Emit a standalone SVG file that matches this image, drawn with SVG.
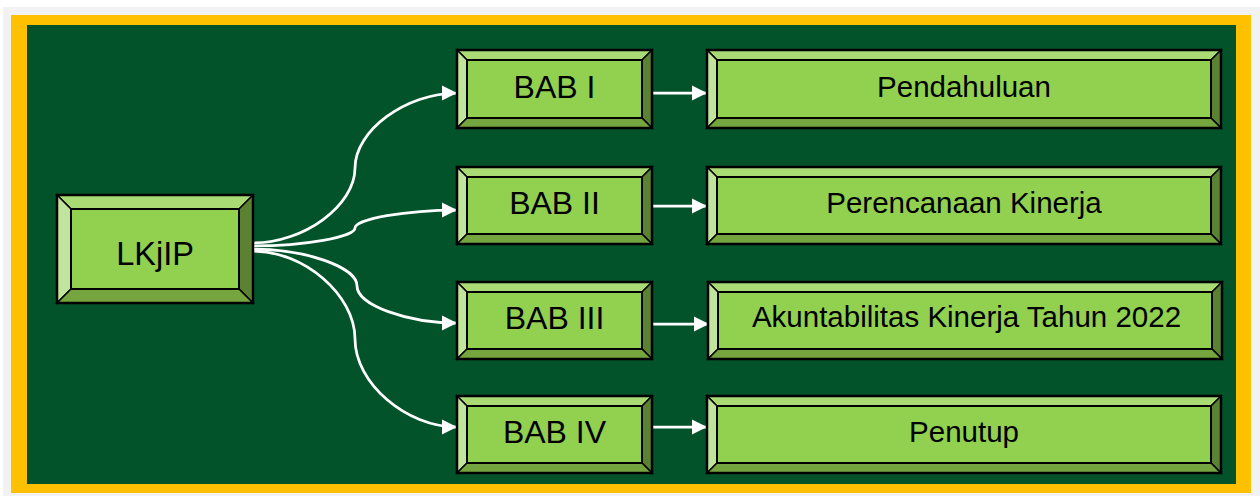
<svg xmlns="http://www.w3.org/2000/svg" width="1260" height="496" viewBox="0 0 1260 496">
<defs>
<style>
.top{fill:#a9da74;stroke:#000;stroke-width:1.5;stroke-linejoin:miter}
.left{fill:#c0e49c;stroke:#000;stroke-width:1.5}
.right{fill:#5b8133;stroke:#000;stroke-width:1.5}
.bottom{fill:#75a53e;stroke:#000;stroke-width:1.5}
.face{fill:#92d050;stroke:#000;stroke-width:2}
.outer{fill:none;stroke:#000;stroke-width:2.5}
.t{font-family:"Liberation Sans",Arial,sans-serif;fill:#000;text-anchor:middle}
.conn{fill:none;stroke:#fff;stroke-width:2.75;marker-end:url(#ah)}
</style>
<marker id="ah" markerUnits="userSpaceOnUse" markerWidth="18" markerHeight="18" refX="15" refY="8" orient="auto">
<path d="M0,0.5 L15,8 L0,15.5 Z" fill="#fff"/>
</marker>
</defs>
<rect x="0" y="0" width="1260" height="496" fill="#ffffff"/>
<rect x="3" y="7" width="1257" height="489" fill="#f2f2f2"/>
<rect x="11" y="15" width="1240" height="478" fill="#ffc000"/>
<rect x="27" y="25" width="1209" height="459" fill="#03532a"/>

<g id="connectors">
<path class="conn" d="M253,243 C304,243 355,205.5 355,168 C355,130.5 406,93 457,93"/>
<path class="conn" d="M253,246 C304,246 355,237 355,228 C355,219 406,210 457,210"/>
<path class="conn" d="M253,249 C305,249 357,267 357,286 C357,305 407,323 457,323"/>
<path class="conn" d="M253,251 C304,251 355,295 355,339 C355,383 406,427 457,427"/>
<path class="conn" d="M652,93 L707,93"/>
<path class="conn" d="M652,206 L707,206"/>
<path class="conn" d="M652,324 L709,324"/>
<path class="conn" d="M652,427 L707,427"/>
</g>

<g id="lkjip">
<polygon class="top" points="57,195 253,195 239,209 71,209"/>
<polygon class="left" points="57,195 71,209 71,289 57,303"/>
<polygon class="right" points="253,195 253,303 239,289 239,209"/>
<polygon class="bottom" points="57,303 71,289 239,289 253,303"/>
<rect class="face" x="71" y="209" width="168" height="80"/>
<rect class="outer" x="57" y="195" width="196" height="108"/>
<text class="t" x="155" y="265" font-size="32.5">LKjIP</text>
</g>

<g id="bab1">
<polygon class="top" points="457,50 652,50 642,60 467,60"/>
<polygon class="left" points="457,50 467,60 467,118 457,128"/>
<polygon class="right" points="652,50 652,128 642,118 642,60"/>
<polygon class="bottom" points="457,128 467,118 642,118 652,128"/>
<rect class="face" x="467" y="60" width="175" height="58"/>
<rect class="outer" x="457" y="50" width="195" height="78"/>
<text class="t" x="554.5" y="98" font-size="32">BAB I</text>
</g>

<g id="bab2">
<polygon class="top" points="457,167 652,167 642,177 467,177"/>
<polygon class="left" points="457,167 467,177 467,234 457,244"/>
<polygon class="right" points="652,167 652,244 642,234 642,177"/>
<polygon class="bottom" points="457,244 467,234 642,234 652,244"/>
<rect class="face" x="467" y="177" width="175" height="57"/>
<rect class="outer" x="457" y="167" width="195" height="77"/>
<text class="t" x="554.5" y="214" font-size="32">BAB II</text>
</g>

<g id="bab3">
<polygon class="top" points="457,282 652,282 642,292 467,292"/>
<polygon class="left" points="457,282 467,292 467,349 457,359"/>
<polygon class="right" points="652,282 652,359 642,349 642,292"/>
<polygon class="bottom" points="457,359 467,349 642,349 652,359"/>
<rect class="face" x="467" y="292" width="175" height="57"/>
<rect class="outer" x="457" y="282" width="195" height="77"/>
<text class="t" x="554.5" y="329" font-size="32">BAB III</text>
</g>

<g id="bab4">
<polygon class="top" points="457,396 652,396 642,406 467,406"/>
<polygon class="left" points="457,396 467,406 467,463 457,473"/>
<polygon class="right" points="652,396 652,473 642,463 642,406"/>
<polygon class="bottom" points="457,473 467,463 642,463 652,473"/>
<rect class="face" x="467" y="406" width="175" height="57"/>
<rect class="outer" x="457" y="396" width="195" height="77"/>
<text class="t" x="554.5" y="443" font-size="32">BAB IV</text>
</g>

<g id="pendahuluan">
<polygon class="top" points="707,50 1221,50 1211,60 717,60"/>
<polygon class="left" points="707,50 717,60 717,118 707,128"/>
<polygon class="right" points="1221,50 1221,128 1211,118 1211,60"/>
<polygon class="bottom" points="707,128 717,118 1211,118 1221,128"/>
<rect class="face" x="717" y="60" width="494" height="58"/>
<rect class="outer" x="707" y="50" width="514" height="78"/>
<text class="t" x="964" y="97" font-size="29.5">Pendahuluan</text>
</g>

<g id="perencanaan">
<polygon class="top" points="707,167 1221,167 1211,177 717,177"/>
<polygon class="left" points="707,167 717,177 717,234 707,244"/>
<polygon class="right" points="1221,167 1221,244 1211,234 1211,177"/>
<polygon class="bottom" points="707,244 717,234 1211,234 1221,244"/>
<rect class="face" x="717" y="177" width="494" height="57"/>
<rect class="outer" x="707" y="167" width="514" height="77"/>
<text class="t" x="964" y="213" font-size="29.5">Perencanaan Kinerja</text>
</g>

<g id="akuntabilitas">
<polygon class="top" points="708,282 1222,282 1212,292 718,292"/>
<polygon class="left" points="708,282 718,292 718,349 708,359"/>
<polygon class="right" points="1222,282 1222,359 1212,349 1212,292"/>
<polygon class="bottom" points="708,359 718,349 1212,349 1222,359"/>
<rect class="face" x="718" y="292" width="494" height="57"/>
<rect class="outer" x="708" y="282" width="514" height="77"/>
<text class="t" x="966.5" y="327" font-size="29.5">Akuntabilitas Kinerja Tahun 2022</text>
</g>

<g id="penutup">
<polygon class="top" points="707,396 1221,396 1211,406 717,406"/>
<polygon class="left" points="707,396 717,406 717,463 707,473"/>
<polygon class="right" points="1221,396 1221,473 1211,463 1211,406"/>
<polygon class="bottom" points="707,473 717,463 1211,463 1221,473"/>
<rect class="face" x="717" y="406" width="494" height="57"/>
<rect class="outer" x="707" y="396" width="514" height="77"/>
<text class="t" x="964" y="442" font-size="29.5">Penutup</text>
</g>
</svg>
